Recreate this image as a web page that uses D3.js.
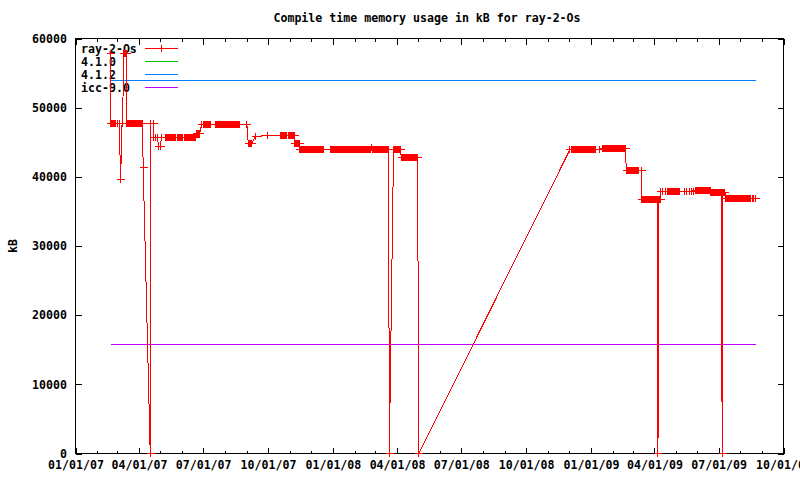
<!DOCTYPE html>
<html><head><meta charset="utf-8">
<script src="https://cdn.jsdelivr.net/npm/d3@7/dist/d3.min.js"></script>
<style>
body{margin:0;background:#fff}
svg text{font-family:"DejaVu Sans Mono","Liberation Mono",monospace;font-weight:bold;font-size:11.6px;fill:#000}
</style></head><body><svg id="c" width="800" height="480"></svg>
<script>
// ---------- data ----------
const title = "Compile time memory usage in kB for ray-2-Os";
const yLabel = "kB";
const seriesNames = ["ray-2-Os", "4.1.0", "4.1.2", "icc-9.0"];
const seriesColors = ["#ff0000", "#00c000", "#0080ff", "#c000ff"];
const xRange = ["2007-01-01", "2009-10-01"];
const yTicks = [0, 10000, 20000, 30000, 40000, 50000, 60000];
// reference compilers (constant), kB
const refKB = [53900, 53900, 15760];
// ray-2-Os nightly measurements, as runs of identical daily values
const runStart = ["2007-02-19","2007-02-20","2007-03-01","2007-03-04","2007-03-06","2007-03-08","2007-03-10","2007-03-15","2007-03-30","2007-04-07",
  "2007-04-17","2007-04-18","2007-04-21","2007-04-22","2007-04-24","2007-04-27","2007-04-29",
  "2007-05-01","2007-05-03","2007-05-08","2007-05-26","2007-06-04","2007-06-21","2007-06-29","2007-07-02","2007-07-18","2007-09-01",
  "2007-09-03","2007-09-13","2007-09-30","2007-10-18","2007-10-30","2007-11-08","2007-11-15","2007-12-29","2008-02-25","2008-02-26",
  "2008-03-21","2008-03-27","2008-04-07","2008-05-02","2008-12-02","2008-12-04","2009-01-13","2009-01-17","2009-02-20","2009-03-13",
  "2009-03-14","2009-04-06","2009-04-07","2009-04-10","2009-04-13","2009-04-16","2009-04-19","2009-05-14","2009-05-17","2009-05-21",
  "2009-05-24","2009-05-27","2009-05-29","2009-06-20","2009-07-06","2009-07-07","2009-07-11","2009-08-18","2009-08-20","2009-08-22"];
const runEnd = ["2007-02-19","2007-02-27","2007-03-01","2007-03-04","2007-03-06","2007-03-09","2007-03-14","2007-03-28","2007-04-06","2007-04-07",
  "2007-04-17","2007-04-18","2007-04-21","2007-04-22","2007-04-24","2007-04-27","2007-04-29",
  "2007-05-01","2007-05-03","2007-05-23","2007-06-02","2007-06-20","2007-06-26","2007-06-29","2007-07-11","2007-08-21","2007-09-01",
  "2007-09-08","2007-09-13","2007-09-30","2007-10-27","2007-11-07","2007-11-14","2007-12-18","2008-02-24","2008-02-25","2008-03-20",
  "2008-03-21","2008-04-06","2008-04-30","2008-05-02","2008-12-02","2009-01-08","2009-01-13","2009-02-19","2009-03-10","2009-03-13",
  "2009-04-05","2009-04-06","2009-04-09","2009-04-10","2009-04-13","2009-04-16","2009-05-07","2009-05-14","2009-05-17","2009-05-21",
  "2009-05-24","2009-05-27","2009-06-19","2009-07-05","2009-07-06","2009-07-10","2009-08-15","2009-08-18","2009-08-20","2009-08-22"];
const runKB = [57900,47700,47700,47700,39600,47700,57900,47700,47700,41300,
  0,47700,47700,45700,45700,45700,44400,
  44400,45700,45700,45700,45700,46300,47600,47600,47600,47600,
  44800,45800,46000,46000,46000,44800,43900,43900,44300,43900,
  0,43900,42800,0,43900,43900,43900,44150,40900,40900,
  36700,0,36700,37900,37900,37900,37900,37900,37900,37900,
  37900,37900,38000,37800,0,37800,36800,36800,36800,36800];

// ---------- build ----------
const parse = d3.timeParse("%Y-%m-%d");
const points = [];
runStart.forEach((s, i) => {
  const a = parse(s), b = parse(runEnd[i]);
  d3.timeDay.range(a, d3.timeDay.offset(b, 1)).forEach(d => points.push({date: d, kb: runKB[i]}));
});

const L = 75.5, R = 783.5, T = 38.5, B = 453.5;
const x = d3.scaleTime().domain(xRange.map(parse)).range([L, R]);
const y = d3.scaleLinear().domain([0, 60000]).range([B, T]);
const svg = d3.select("#c");
const fmt = d3.timeFormat("%m/%d/%y");
const majors = d3.timeMonth.every(3).range(parse(xRange[0]), d3.timeDay.offset(parse(xRange[1]), 1));
const minors = d3.timeMonth.every(1).range(parse(xRange[0]), d3.timeDay.offset(parse(xRange[1]), 1));

const axG = svg.append("g").attr("shape-rendering", "crispEdges");
// minor ticks
axG.append("g").attr("transform", `translate(0,${B})`)
  .call(d3.axisBottom(x).tickValues(minors).tickSize(-3).tickFormat(""))
  .call(g => g.select(".domain").remove());
axG.append("g").attr("transform", `translate(0,${T})`)
  .call(d3.axisTop(x).tickValues(minors).tickSize(-3).tickFormat(""))
  .call(g => g.select(".domain").remove());
// major ticks
axG.append("g").attr("transform", `translate(0,${B})`)
  .call(d3.axisBottom(x).tickValues(majors).tickSize(-6).tickPadding(7).tickFormat(fmt))
  .call(g => g.select(".domain").remove());
axG.append("g").attr("transform", `translate(0,${T})`)
  .call(d3.axisTop(x).tickValues(majors).tickSize(-6).tickFormat(""))
  .call(g => g.select(".domain").remove());
axG.append("g").attr("transform", `translate(${L},0)`)
  .call(d3.axisLeft(y).tickValues(yTicks).tickSize(-6).tickPadding(8.5).tickFormat(d3.format("d")))
  .call(g => g.select(".domain").remove());
axG.append("g").attr("transform", `translate(${R},0)`)
  .call(d3.axisRight(y).tickValues(yTicks).tickSize(-6).tickFormat(""))
  .call(g => g.select(".domain").remove());
axG.selectAll("text").attr("font-family", null).attr("font-size", null);
axG.selectAll("line").attr("stroke", "#000");
axG.append("rect").attr("x", L).attr("y", T).attr("width", R - L).attr("height", B - T)
  .attr("fill", "none").attr("stroke", "#000");

// title & y label
svg.append("text").attr("x", 427).attr("y", 22).attr("text-anchor", "middle").text(title);
svg.append("text").attr("transform", "translate(17,246) rotate(-90)").attr("text-anchor", "middle").text(yLabel);

// legend
const lg = svg.append("g").attr("shape-rendering", "crispEdges");
seriesNames.forEach((n, i) => {
  const yy = 48.5 + i * 13;
  lg.append("text").attr("x", 81).attr("y", yy).attr("dy", "0.35em").text(n);
  lg.append("line").attr("x1", 145).attr("x2", 178).attr("y1", yy).attr("y2", yy)
    .attr("stroke", seriesColors[i]);
  if (i === 0) lg.append("path").attr("d", `M${161.5},${yy - 3.5}V${yy + 3.5}`).attr("stroke", seriesColors[0]);
});

// reference lines
const d0 = points[0].date, d1 = points[points.length - 1].date;
const plot = svg.append("g").attr("shape-rendering", "crispEdges");
refKB.forEach((v, i) => {
  plot.append("line").attr("x1", Math.round(x(d0)) + 0.5).attr("x2", Math.round(x(d1)) + 0.5)
    .attr("y1", Math.round(y(v) - 0.5) + 0.5).attr("y2", Math.round(y(v) - 0.5) + 0.5)
    .attr("stroke", seriesColors[i + 1]);
});

// ray-2-Os series
const line = d3.line().x(d => x(d.date)).y(d => y(d.kb));
plot.append("path").datum(points).attr("d", line).attr("fill", "none").attr("stroke", seriesColors[0]);
plot.selectAll("path.pt").data(points).join("path").attr("class", "pt")
  .attr("transform", d => `translate(${Math.round(x(d.date) - 0.5) + 0.5},${Math.round(y(d.kb) - 0.5) + 0.5})`)
  .attr("d", "M-4,0H4M0,-3.5V3.5").attr("fill", "none").attr("stroke", seriesColors[0]);
</script></body></html>
